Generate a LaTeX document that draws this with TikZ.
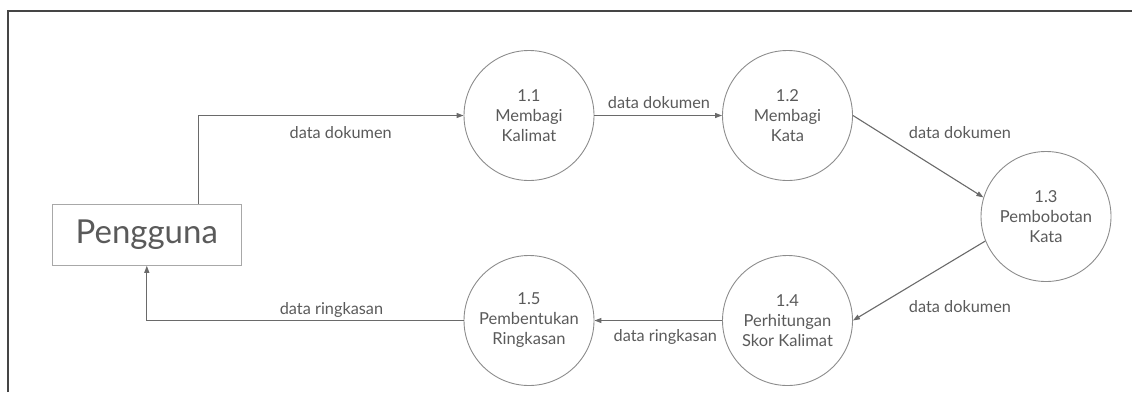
\documentclass[tikz,border=0pt]{standalone}
\usepackage{fontspec}
\setmainfont{Lato}
\usetikzlibrary{arrows.meta}
\definecolor{linec}{HTML}{6A6A6A}
\definecolor{circc}{HTML}{8C8C8C}
\definecolor{boxc}{HTML}{A8A8A8}
\definecolor{txtc}{HTML}{5A5A5A}
\definecolor{framec}{HTML}{454545}
\tikzset{
  proc/.style={circle, draw=circc, line width=0.9pt, minimum size=130pt, inner sep=0pt,
    align=center, text=txtc, font=\fontsize{16.5}{20}\selectfont},
  ent/.style={rectangle, draw=boxc, line width=1pt, minimum width=189pt, minimum height=61pt,
    inner sep=0pt, text=txtc, font=\fontsize{33}{36}\selectfont},
  arr/.style={draw=linec, line width=1.1pt, -{Triangle[length=7pt,width=5pt]}},
  lbl/.style={text=txtc, font=\fontsize{16.3}{18}\selectfont, inner sep=0pt},
  framel/.style={draw=framec, line width=2pt}
}
\begin{document}
\begin{tikzpicture}[x=1pt,y=-1pt]
\useasboundingbox (0,0) rectangle (1132,392);
% frame
\coordinate (ftl) at (7.5,10.5);
\coordinate (ftr) at (1132,10.5);
\coordinate (fbl) at (7.5,392);
\draw[framel] (fbl) -- (ftl) -- (ftr);
% nodes
\node[ent] (user) at (146.8,234.8) {Pengguna};
\node[proc] (p11) at (529,115.5) {1.1\\Membagi\\Kalimat};
\node[proc] (p12) at (787.5,115.5) {1.2\\Membagi\\Kata};
\node[proc] (p13) at (1046,216.5) {1.3\\Pembobotan\\Kata};
\node[proc] (p14) at (787.5,320.5) {1.4\\Perhitungan\\Skor Kalimat};
\node[proc] (p15) at (529,320.5) {1.5\\Pembentukan\\Ringkasan};
% connectors
\draw[arr] ([xshift=52pt]user.north) |- (p11.west);
\draw[arr] (p11.east) -- (p12.west);
\draw[arr] (p12.east) -- (p13.163);
\draw[arr] (p13.202) -- (p14.east);
\draw[arr] (p14.west) -- (p15.east);
\draw[arr] (p15.west) -| (user.south);
% labels
\node[lbl] (l1) at (340.7,132.7) {data dokumen};
\node[lbl] (l2) at (659,102.3) {data dokumen};
\node[lbl] (l3) at (960,133) {data dokumen};
\node[lbl] (l4) at (960,306.7) {data dokumen};
\node[lbl] (l5) at (665.3,337) {data ringkasan};
\node[lbl] (l6) at (331.5,310) {data ringkasan};
\end{tikzpicture}
\end{document}
